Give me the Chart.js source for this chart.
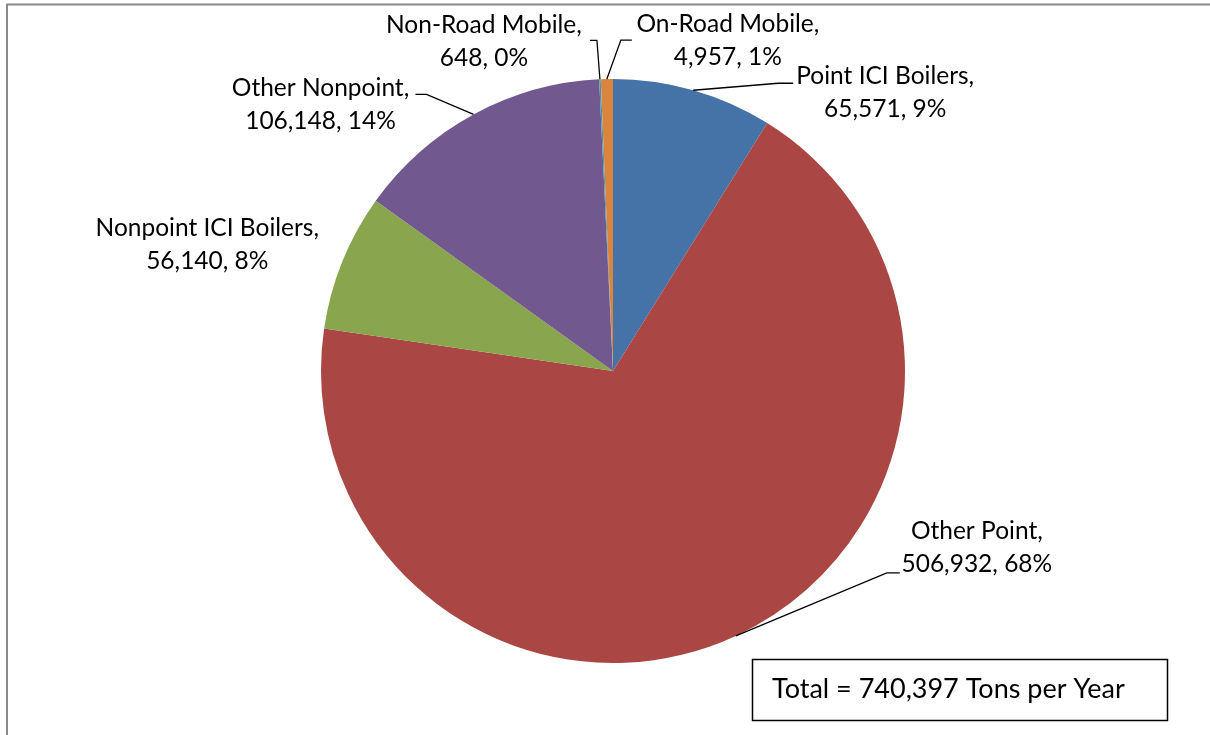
<!DOCTYPE html>
<html>
<head>
<meta charset="utf-8">
<title>Emissions by source category</title>
<script src="https://cdn.jsdelivr.net/npm/chart.js@4/dist/chart.umd.min.js"></script>
<style>
	html, body { margin: 0; padding: 0; background: #fff; }
	#wrap { width: 1210px; height: 735px; }
</style>
</head>
<body>
<div id="wrap"><canvas id="chart" width="1210" height="735"></canvas></div>
<script>
// source categories, clockwise from 12 o'clock
const categories = ['Point ICI Boilers', 'Other Point', 'Nonpoint ICI Boilers', 'Other Nonpoint', 'Non-Road Mobile', 'On-Road Mobile']
const tonsPerYear = [65571, 506932, 56140, 106148, 648, 4957]
const totalLabel = 'Total = 740,397 Tons per Year'

const sliceColors = ['#4572A7', '#AA4643', '#89A54E', '#71588F', '#4198AF', '#DB843D']

// label block offset from the slice's outer mid point, leader elbow, horizontal tick
const labelLayout = [
	{ dx: 192, dy: 2, elbow: [85, -7], tick: 15 },
	{ dx: 241, dy: -88, elbow: [151, -63], tick: 13 },
	{ dx: -135, dy: -17, elbow: null },
	{ dx: -153, dy: -10, elbow: [-47, -20], tick: -11 },
	{ dx: -116, dy: -38, elbow: [-3, -39], tick: -7 },
	{ dx: 121, dy: -38, elbow: [14, -39], tick: 11 },
]

const FONT = '24.5px Lato, "Open Sans", sans-serif'
const TOTAL_FONT = '27px Lato, "Open Sans", sans-serif'
const LINE_H = 33

const sum = tonsPerYear.reduce((a, b) => a + b, 0)

const framePlugin = {
	id: 'frame',
	beforeDraw(chart) {
		const ctx = chart.ctx
		ctx.save()
		ctx.fillStyle = '#fff'
		ctx.fillRect(0, 0, chart.width, chart.height)
		ctx.strokeStyle = '#8a8a8a'
		ctx.lineWidth = 2
		ctx.beginPath()
		ctx.moveTo(7, chart.height + 2)
		ctx.lineTo(7, 4.5)
		ctx.lineTo(chart.width + 2, 4.5)
		ctx.stroke()
		ctx.restore()
	}
}

const sliceLabels = {
	id: 'sliceLabels',
	afterDatasetsDraw(chart) {
		const ctx = chart.ctx
		const arcs = chart.getDatasetMeta(0).data
		ctx.save()
		ctx.font = FONT
		ctx.fillStyle = '#000'
		ctx.textAlign = 'center'
		ctx.textBaseline = 'middle'
		ctx.strokeStyle = '#000'
		ctx.lineWidth = 1.3
		arcs.forEach((arc, i) => {
			const p = arc.getProps(['x', 'y', 'startAngle', 'endAngle', 'outerRadius'], true)
			const mid = (p.startAngle + p.endAngle) / 2
			const ax = p.x + Math.cos(mid) * p.outerRadius
			const ay = p.y + Math.sin(mid) * p.outerRadius
			const lay = labelLayout[i]
			const v = tonsPerYear[i]
			const pct = Math.round(v / sum * 100)
			const lines = [categories[i] + ',', v.toLocaleString('en-US') + ', ' + pct + '%']
			const cx = ax + lay.dx
			const cy = ay + lay.dy
			ctx.fillText(lines[0], cx, cy - LINE_H / 2)
			ctx.fillText(lines[1], cx, cy + LINE_H / 2)
			if (lay.elbow) {
				const ex = ax + lay.elbow[0]
				const ey = ay + lay.elbow[1]
				ctx.beginPath()
				ctx.moveTo(ax, ay)
				ctx.lineTo(ex, ey)
				ctx.lineTo(ex + lay.tick, ey)
				ctx.stroke()
			}
		})
		ctx.restore()
	}
}

const totalBox = {
	id: 'totalBox',
	afterDraw(chart) {
		const ctx = chart.ctx
		ctx.save()
		ctx.strokeStyle = '#000'
		ctx.lineWidth = 1.5
		ctx.strokeRect(752.5, 659.5, 415, 61)
		ctx.font = TOTAL_FONT
		ctx.fillStyle = '#000'
		ctx.textAlign = 'left'
		ctx.textBaseline = 'middle'
		ctx.fillText(totalLabel, 772, 689)
		ctx.restore()
	}
}

new Chart(document.getElementById('chart'), {
	type: 'pie',
	data: {
		labels: categories,
		datasets: [{
			data: tonsPerYear,
			backgroundColor: sliceColors,
			borderWidth: 0,
		}]
	},
	options: {
		responsive: false,
		animation: false,
		layout: { padding: { left: 321, right: 305, top: 79, bottom: 72 } },
		plugins: {
			legend: { display: false },
			tooltip: { enabled: false },
		}
	},
	plugins: [framePlugin, sliceLabels, totalBox]
})
</script>
</body>
</html>
